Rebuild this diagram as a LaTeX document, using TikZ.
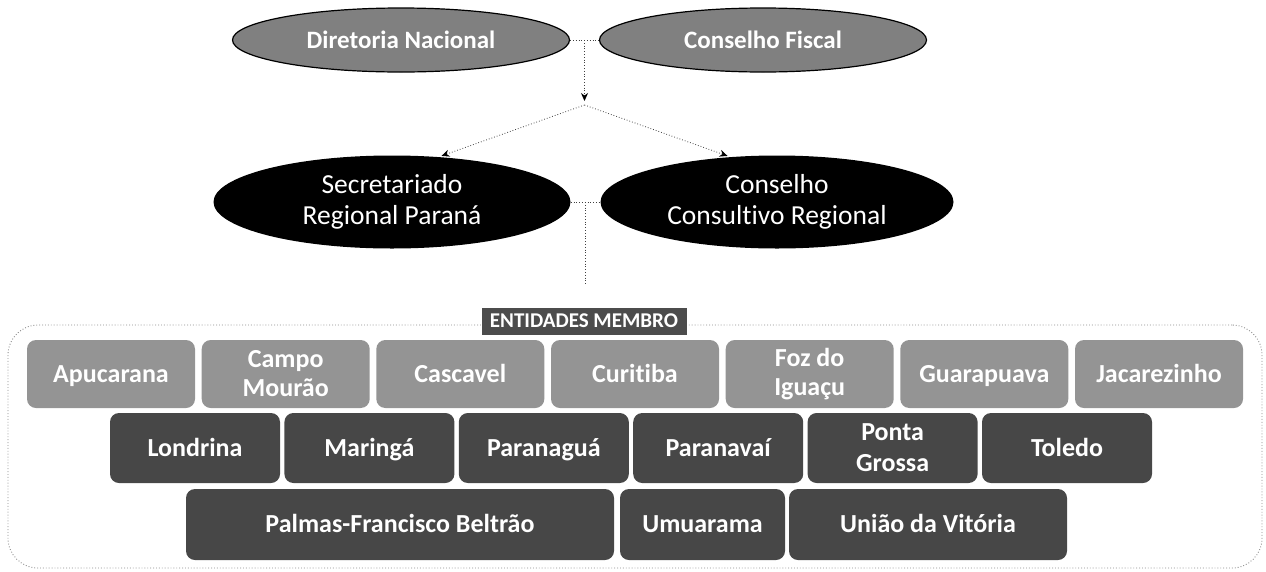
\documentclass[tikz,border=0pt]{standalone}
\usepackage{fontspec}
\setmainfont[Ligatures=NoCommon]{Carlito}
\usetikzlibrary{shapes.geometric,arrows.meta,calc}
\begin{document}
\begin{tikzpicture}[x=1pt,y=-1pt,
  conn/.style={draw=black!75, line width=0.8pt, dotted},
  arr/.style={-{Stealth[length=8pt,width=7pt,black]}},
  topell/.style={ellipse, draw=black, line width=1.2pt, fill=black!50, text=white, inner sep=0pt,
    font=\bfseries\fontsize{25}{30}\selectfont, minimum height=64pt},
  midell/.style={ellipse, fill=black, text=white, inner sep=0pt, align=center,
    font=\fontsize{27.5}{31}\selectfont, minimum height=93pt, minimum width=355pt},
  ent/.style={rectangle, rounded corners=9pt, inner sep=0pt, text=white, align=center,
    font=\bfseries\fontsize{26}{29}\selectfont},
  oneline/.style={text height=17pt, text depth=1pt},
  lightbox/.style={ent, fill=black!42, minimum width=168pt, minimum height=68pt},
  darkbox/.style={ent, fill=black!72, minimum height=70pt},
  outerbox/.style={rectangle, rounded corners=30pt, draw=black!45, dotted, line width=0.9pt,
    minimum width=1254pt, minimum height=243pt},
  tag/.style={rectangle, fill=black!70, text=white, inner sep=0pt,
    font=\bfseries\fontsize{21}{24}\selectfont, minimum width=205pt, minimum height=27pt}
]
\useasboundingbox (0,0) rectangle (1266,571);

% top level
\node[topell, minimum width=337pt] (dn) at (401,40) {Diretoria Nacional};
\node[topell, minimum width=327pt] (cf) at (763,40) {Conselho Fiscal};

% regional level
\node[midell, minimum width=357pt] (sr) at (392,202) {Secretariado\\Regional Paraná};
\node[midell, minimum width=353pt] (cc) at (777,202) {Conselho\\Consultivo Regional};

% member entities frame
\node[outerbox] (members) at (635,446.5) {};
\node[tag] (label) at (584,321) {ENTIDADES MEMBRO};

% row 1
\node[lightbox, oneline] (apu) at (111,374) {Apucarana};
\node[lightbox] (cam) at (285.7,374) {Campo\\Mourão};
\node[lightbox, oneline] (cas) at (460.3,374) {Cascavel};
\node[lightbox, oneline] (cur) at (635,374) {Curitiba};
\node[lightbox] (foz) at (809.7,374) {Foz do\\Iguaçu};
\node[lightbox, oneline] (gua) at (984.3,374) {Guarapuava};
\node[lightbox, oneline] (jac) at (1159,374) {Jacarezinho};

% row 2
\node[darkbox, oneline, minimum width=170pt] (lon) at (195,448) {Londrina};
\node[darkbox, oneline, minimum width=170pt] (mar) at (369.4,448) {Maringá};
\node[darkbox, oneline, minimum width=170pt] (pgu) at (543.8,448) {Paranaguá};
\node[darkbox, oneline, minimum width=170pt] (pvi) at (718.2,448) {Paranavaí};
\node[darkbox, minimum width=170pt, font=\bfseries\fontsize{26}{31}\selectfont] (pgr) at (892.6,448) {Ponta\\Grossa};
\node[darkbox, oneline, minimum width=170pt] (tol) at (1067,448) {Toledo};

% row 3
\node[darkbox, oneline, minimum width=428pt, minimum height=71pt] (pal) at (400,524.5) {Palmas-Francisco Beltrão};
\node[darkbox, oneline, minimum width=165pt, minimum height=71pt] (umu) at (702.5,524.5) {Umuarama};
\node[darkbox, oneline, minimum width=278pt, minimum height=71pt] (uni) at (928,524.5) {União da Vitória};

% connectors
\draw[conn] (dn.east) -- (cf.west);
\coordinate (j1) at ($(dn.east)!0.5!(cf.west)$);
\coordinate (j1b) at ($(j1)+(0,61)$);
\coordinate (j2) at ($(j1)+(0,65)$);
\draw[conn,arr] (j1) -- (j1b);
\draw[conn,arr,shorten >=3pt] (j2) -- (sr.44);
\draw[conn,arr,shorten >=3pt] (j2) -- (cc.136);

\draw[conn] (sr.east) -- (cc.west);
\coordinate (j3) at ($(sr.east)!0.5!(cc.west)$);
\coordinate (j4) at ($(j3)+(0,83)$);
\draw[conn] (j3) -- (j4);
\end{tikzpicture}
\end{document}
